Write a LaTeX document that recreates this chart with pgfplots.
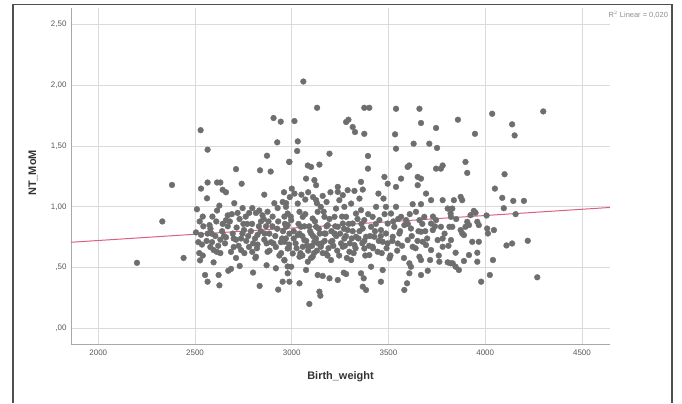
\documentclass[border=0pt]{standalone}
\usepackage{pgfplots}
\pgfplotsset{compat=1.18}
\usepackage{fontspec}
\setmainfont{Liberation Sans}

\definecolor{ptgray}{HTML}{6E6E6E}
\definecolor{fitpink}{HTML}{D9607E}
\definecolor{gridgray}{HTML}{DADADA}
\definecolor{axgray}{HTML}{A8A8A8}
\definecolor{framegray}{HTML}{505050}

\pgfplotstableread{
x y
2200 0.54
2331 0.88
2381 1.18
2441 0.58
2529 1.63
2565 1.47
2531 1.15
2565 1.20
2562 1.07
2614 1.20
2631 1.20
2643 1.14
2660 1.12
2712 1.31
2741 1.19
2836 1.30
2891 1.29
2872 1.42
2906 1.73
2943 1.70
2925 1.53
2858 1.10
2987 1.37
2552 0.44
2565 0.385
2626 0.355
2622 0.44
2672 0.475
2686 0.49
2596 0.544
2731 0.514
2800 0.46
2834 0.35
2930 0.32
2953 0.385
2918 0.495
2870 0.52
2812 0.58
2510 0.98
2540 0.92
2524 0.88
2543 0.84
2505 0.79
2531 0.77
2565 0.78
2586 0.78
2517 0.71
2536 0.69
2522 0.62
2540 0.60
2526 0.56
2579 0.67
2596 0.645
2613 0.63
2631 0.62
2626 1.01
2614 0.97
2669 0.93
2660 0.89
2643 0.86
2669 0.84
2695 0.78
2712 0.73
2686 0.63
2712 0.58
2738 0.645
2755 0.62
2779 0.67
2796 0.63
2815 0.59
2823 0.69
2703 1.03
2720 0.95
2746 0.99
2762 0.92
2770 0.86
2753 0.81
2738 0.74
2796 0.99
2815 0.95
2832 0.97
2849 0.93
2875 0.96
2901 0.92
2841 0.88
2867 0.84
2884 0.78
2910 1.03
2927 0.99
2953 1.04
2970 1.00
2962 0.92
2979 0.85
2858 0.73
2893 0.71
2918 0.67
2875 0.63
2936 0.60
2962 0.56
2979 0.51
2944 0.71
2987 0.69
2823 0.77
2789 0.80
2631 0.73
2660 0.75
2588 0.71
3060 2.03
3131 1.814
3014 1.705
3031 1.538
3028 1.459
2988 1.369
3375 1.814
3401 1.814
3281 1.697
3293 1.716
3315 1.656
3327 1.615
3375 1.60
3539 1.806
3660 1.806
3668 1.689
3746 1.648
3534 1.596
3539 1.478
3630 1.519
3711 1.519
3751 1.484
3195 1.437
3394 1.418
3394 1.314
3083 1.34
3100 1.328
3143 1.347
3599 1.328
3607 1.34
3746 1.314
3771 1.314
3780 1.34
3651 1.246
3668 1.232
3565 1.232
3479 1.246
3074 1.232
3117 1.22
3126 1.178
3358 1.205
3238 1.164
3289 1.137
3324 1.131
3367 1.142
3014 1.109
3651 1.178
3694 1.109
3539 1.164
3496 1.19
3448 1.109
3474 1.068
3720 1.055
3780 1.055
3625 1.022
3668 1.022
3091 0.202
3143 0.303
3148 0.27
3134 0.44
3160 0.432
3195 0.413
3238 0.399
3269 0.459
3281 0.448
3358 0.454
3372 0.413
3367 0.344
3384 0.317
3461 0.385
3582 0.317
3596 0.372
3608 0.454
3668 0.44
3703 0.475
3505 0.577
3410 0.508
3470 0.481
3040 0.372
2988 0.385
3074 0.481
2979 0.454
3668 0.563
3715 0.563
3763 0.549
3806 0.544
3832 0.536
3608 0.536
3616 0.508
2971 1.03
2979 0.945
2997 0.89
2971 0.836
2988 0.78
2962 0.713
2979 0.658
3005 0.617
2962 0.563
2997 0.508
3031 1.027
3040 0.959
3057 0.918
3048 0.836
3031 0.768
3065 0.727
3057 0.672
3040 0.59
3083 0.549
3108 0.59
3091 0.672
3117 0.713
3100 0.781
3126 0.836
3108 0.904
3134 0.959
3150 1.0
3126 1.055
3169 0.918
3186 0.85
3169 0.781
3150 0.672
3177 0.617
3203 0.563
3203 0.713
3221 0.781
3238 0.836
3221 0.918
3229 0.986
3246 1.055
3238 1.123
3264 1.096
3272 1.0
3281 0.918
3264 0.863
3289 0.809
3272 0.74
3264 0.672
3298 0.631
3307 0.563
3324 0.686
3332 0.754
3315 0.863
3332 0.945
3307 1.027
3350 1.068
3358 0.973
3375 0.891
3367 0.822
3384 0.754
3375 0.658
3401 0.604
3418 0.672
3427 0.754
3410 0.836
3418 0.918
3436 1.0
3453 0.891
3461 0.809
3470 0.713
3444 0.631
3487 0.781
3496 0.863
3513 0.945
3487 1.0
3530 0.836
3522 0.754
3548 0.699
3539 1.0
3565 0.918
3582 0.85
3556 0.781
3599 0.727
3591 0.891
3616 0.822
3625 0.672
3642 0.959
3660 0.891
3668 0.795
3677 0.713
3685 0.918
3720 0.863
3729 0.809
3746 0.891
3754 0.727
3771 0.836
3780 0.672
3806 0.986
3823 0.918
3815 0.836
3823 0.727
3720 0.645
3660 0.59
3694 0.686
3859 1.716
3947 1.60
4036 1.765
4139 1.678
4152 1.587
4300 1.784
3898 1.369
3907 1.279
4100 1.268
4050 1.15
4088 1.074
4145 1.049
4200 1.049
4096 0.989
4157 0.94
4007 0.929
3838 1.055
3873 1.082
3881 1.055
3830 0.986
3821 0.945
3941 0.967
3950 0.951
3924 0.932
3907 0.877
3916 0.85
3898 0.836
3959 0.877
3967 0.85
3830 0.836
3873 0.809
3881 0.781
3890 0.768
4010 0.822
4014 0.781
4045 0.809
3933 0.713
3967 0.713
4110 0.683
4139 0.699
4220 0.721
3847 0.623
3916 0.604
3890 0.555
3959 0.623
3959 0.549
3821 0.536
3847 0.508
3864 0.481
4040 0.563
4024 0.44
3979 0.385
4269 0.421
2560 0.72
2575 0.85
2590 0.92
2605 0.76
2620 0.68
2640 0.80
2655 0.70
2680 0.88
2700 0.67
2715 0.83
2730 0.90
2745 0.78
2765 0.72
2780 0.95
2795 0.86
2810 0.74
2820 0.66
2840 0.80
2855 0.90
2870 0.70
2885 0.64
2900 0.84
2915 0.76
2930 0.88
2945 0.62
2955 0.80
2970 0.74
2985 0.66
2995 0.92
3010 0.80
3020 0.70
3035 0.86
3045 0.62
3055 0.76
3070 0.94
3080 0.68
3090 0.84
3100 0.58
3110 0.76
3120 0.88
3130 0.64
3140 0.82
3155 0.70
3165 0.96
3175 0.78
3185 0.60
3195 0.90
3210 0.72
3225 0.84
3235 0.64
3250 0.78
3260 0.92
3275 0.68
3285 0.58
3295 0.86
3310 0.74
3320 0.62
3340 0.90
3350 0.80
3365 0.70
3380 0.60
3395 0.94
3405 0.76
3420 0.66
3435 0.86
3450 0.72
3465 0.62
3480 0.94
3495 0.70
3510 0.60
3525 0.88
3545 0.64
3560 0.80
3580 0.58
3600 0.86
3620 0.76
3640 0.66
3655 0.80
3675 0.86
3700 0.74
3730 0.92
3760 0.60
3790 0.78
3000 1.15
3050 1.10
3070 1.06
3085 1.12
3110 1.08
3160 1.09
3180 1.04
3200 1.12
3130 1.03
2990 1.08
2960 1.12
3010 0.74
3025 0.66
3040 0.78
3055 0.60
3065 0.84
3075 0.72
3085 0.64
3095 0.80
3105 0.68
3115 0.62
3125 0.74
3135 0.70
3145 0.78
3160 0.62
3170 0.72
3180 0.84
3190 0.66
3205 0.80
3215 0.68
3230 0.76
3245 0.60
3255 0.70
3270 0.82
3280 0.76
3300 0.70
3315 0.80
3330 0.66
3345 0.74
3360 0.86
3375 0.72
2700 0.74
2725 0.68
2750 0.86
2775 0.76
2800 0.70
2830 0.84
2860 0.78
2880 0.88
2905 0.70
2925 0.82
2950 0.74
2965 0.86
2580 0.82
2610 0.88
2650 0.76
2690 0.94
3400 0.68
3430 0.80
3460 0.76
3490 0.66
3520 0.72
3550 0.90
3570 0.68
3610 0.94
3650 0.72
3690 0.80
3740 0.84
3780 0.74
3810 0.68
3850 0.90
}\births

\begin{document}
\begin{tikzpicture}
\begin{axis}[
    scale only axis,
    width=539bp, height=336bp,
    xmin=1859, xmax=4645,
    ymin=-0.127, ymax=2.634,
    axis x line=bottom, axis y line=left,
    axis line style={-, axgray, line width=0.9pt},
    xtick={2000,2500,3000,3500,4000,4500},
    ytick={0,0.5,1,1.5,2,2.5},
    yticklabels={{,00},{,50},{1,00},{1,50},{2,00},{2,50}},
    major tick length=0pt,
    grid=major,
    major grid style={gridgray, line width=0.8pt},
    /pgf/number format/assume math mode=true,
    /pgf/number format/set thousands separator={},
    tick label style={font=\fontsize{8}{9}\selectfont, text=black!65},
    xticklabel style={yshift=-2pt},
    yticklabel style={xshift=-1pt},
    xlabel={Birth\_weight},
    ylabel={NT\_MoM},
    label style={font=\fontsize{11}{12}\selectfont\bfseries, text=black!80},
    xlabel style={at={(axis description cs:0.5,-0.098)}, anchor=center},
    ylabel style={at={(axis description cs:-0.0705,0.509)}, anchor=center},
    clip=false,
]
\addplot[only marks, mark=*, mark size=2.9pt, ptgray, mark options={draw=ptgray, fill=ptgray}]
    table[x=x, y=y] {\births};
\addplot[fitpink, line width=1pt] coordinates {(1859,0.709) (4645,0.995)};
\node[anchor=west, font=\fontsize{7.5}{8}\selectfont, text=black!45, inner sep=0pt]
    at (rel axis cs:0.997,0.979) {R$^2$ Linear = 0,020};
% outer frame and page size
\draw[framegray, line width=1.3pt]
    (rel axis cs:-0.1076,-0.1756) -- (rel axis cs:-0.1076,1.0098)
    -- (rel axis cs:1.115,1.0098) -- (rel axis cs:1.115,-0.1756);
\path[use as bounding box] (rel axis cs:-0.13173,-0.17560) rectangle (rel axis cs:1.13358,1.02381);
\end{axis}
\end{tikzpicture}
\end{document}
